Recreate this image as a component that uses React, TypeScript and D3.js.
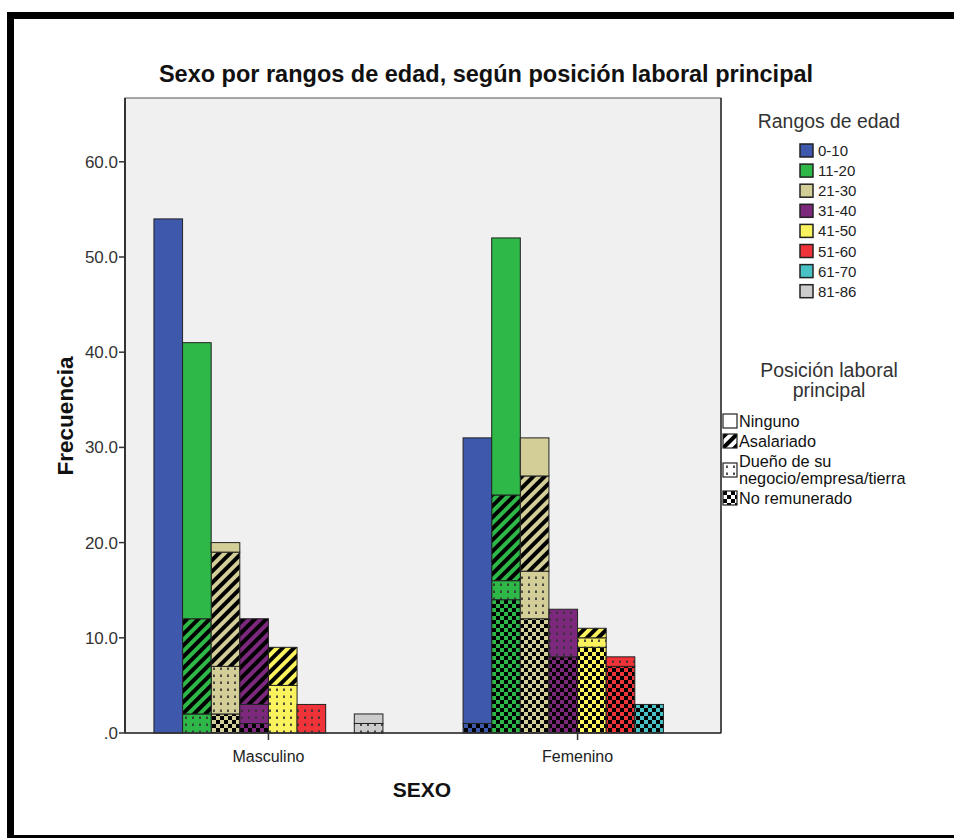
import React from "react";
import * as d3 from "d3";

const sexes = ["Masculino", "Femenino"];
const ages = ["0-10", "11-20", "21-30", "31-40", "41-50", "51-60", "61-70", "81-86"];
const ageColors = ["#3E58AC", "#2EB848", "#D3CE97", "#7C287D", "#FBF35E", "#EF3338", "#48C2C5", "#CCCCCC"];
const positions = ["No remunerado", "Dueño", "Asalariado", "Ninguno"]; // bottom -> top

// Counts per age range (order of `ages`)
const mascNinguno = [54, 29, 1, 0, 0, 0, 0, 1];
const mascAsalariado = [0, 10, 12, 9, 4, 0, 0, 0];
const mascDueno = [0, 2, 5, 2, 5, 3, 0, 1];
const mascNoRem = [0, 0, 2, 1, 0, 0, 0, 0];
const femNinguno = [30, 27, 4, 0, 0, 0, 0, 0];
const femAsalariado = [0, 9, 10, 0, 1, 0, 0, 0];
const femDueno = [0, 2, 5, 5, 1, 1, 0, 0];
const femNoRem = [1, 14, 12, 8, 9, 7, 3, 0];

const yTicks = [0, 10, 20, 30, 40, 50, 60];
const legendPositions = ["Ninguno", "Asalariado", "Dueño de su|negocio/empresa/tierra", "No remunerado"];

const FONT = "Arial, 'Liberation Sans', sans-serif";

const seriesBySex: Record<string, Record<string, number[]>> = {
  Masculino: { "No remunerado": mascNoRem, "Dueño": mascDueno, "Asalariado": mascAsalariado, "Ninguno": mascNinguno },
  Femenino: { "No remunerado": femNoRem, "Dueño": femDueno, "Asalariado": femAsalariado, "Ninguno": femNinguno },
};

const patternKind: Record<string, string> = {
  "Ninguno": "solid",
  "Asalariado": "stripe",
  "Dueño": "dot",
  "No remunerado": "check",
};

function fillFor(pos: string, ageIdx: number) {
  const k = patternKind[pos];
  if (k === "solid") return ageColors[ageIdx];
  return `url(#${k}-${ageIdx})`;
}

function Patterns({ color, id }: { color: string; id: string }) {
  return (
    <>
      <pattern id={`stripe-${id}`} width={8} height={8} patternUnits="userSpaceOnUse" patternTransform="rotate(45)">
        <rect width={8} height={8} fill={color} />
        <rect width={4} height={8} fill="#000" />
      </pattern>
      <pattern id={`dot-${id}`} width={7} height={7} patternUnits="userSpaceOnUse">
        <rect width={7} height={7} fill={color} />
        <rect x={3} y={2.5} width={2} height={2.5} fill="#333" opacity={0.85} />
      </pattern>
      <pattern id={`check-${id}`} width={8} height={8} patternUnits="userSpaceOnUse">
        <rect width={8} height={8} fill={color} />
        <rect width={4} height={4} fill="#000" />
        <rect x={4} y={4} width={4} height={4} fill="#000" />
      </pattern>
    </>
  );
}

export default function App() {
  const W = 954, H = 838;
  const plotL = 125, plotR = 721, plotT = 98, plotB = 733;

  const y = d3.scaleLinear().domain([0, 66.7]).range([plotB, plotT]);
  const x = d3.scalePoint<string>().domain(sexes).range([plotL, plotR]).padding(0.464);
  const inner = d3.scaleBand<string>().domain(ages).range([-114.5, 114.5]).padding(0);

  const segments: { x: number; y0: number; y1: number; w: number; fill: string; key: string }[] = [];
  sexes.forEach((s) => {
    const rows = ages.map((_, i) => {
      const r: any = {};
      positions.forEach((p) => (r[p] = seriesBySex[s][p][i]));
      return r;
    });
    const st = d3.stack<any>().keys(positions)(rows);
    st.forEach((layer) => {
      layer.forEach((d, i) => {
        if (d[1] - d[0] <= 0) return;
        segments.push({
          x: (x(s) as number) + (inner(ages[i]) as number),
          w: inner.bandwidth(),
          y0: y(d[0]),
          y1: y(d[1]),
          fill: fillFor(layer.key, i),
          key: `${s}-${layer.key}-${i}`,
        });
      });
    });
  });

  const fmt = (v: number) => (v === 0 ? ".0" : d3.format(".1f")(v));

  return (
    <svg width={W} height={H} style={{ position: "absolute", left: 0, top: 0, background: "#fff" }}>
      <defs>
        {ageColors.map((c, i) => (
          <Patterns key={i} color={c} id={String(i)} />
        ))}
        <Patterns color="#fff" id="legend" />
      </defs>
      <rect width={W} height={H} fill="#fff" />
      {/* frame */}
      <rect x={7} y={12} width={W} height={7} fill="#000" />
      <rect x={7} y={12} width={7} height={H} fill="#000" />
      <rect x={7} y={835} width={W} height={4} fill="#000" />

      {/* title */}
      <text x={486} y={82} textAnchor="middle" fontFamily={FONT} fontWeight="bold" fontSize={23.5} fill="#111">
        Sexo por rangos de edad, según posición laboral principal
      </text>

      {/* plot area */}
      <rect x={plotL} y={plotT} width={plotR - plotL} height={plotB - plotT} fill="#F0F0F0" stroke="#555" strokeWidth={1} />

      {segments.map((sg) => (
        <rect key={sg.key} x={sg.x} y={sg.y1} width={sg.w} height={sg.y0 - sg.y1} fill={sg.fill} stroke="#222" strokeWidth={1} />
      ))}

      {/* axes */}
      <line x1={plotL} x2={plotL} y1={plotT} y2={plotB} stroke="#333" strokeWidth={2} />
      <line x1={plotL} x2={plotR} y1={plotB} y2={plotB} stroke="#333" strokeWidth={1.5} />
      <line x1={plotR} x2={plotR} y1={plotT} y2={plotB} stroke="#333" strokeWidth={1.5} />
      {yTicks.map((t) => (
        <g key={t}>
          <line x1={plotL - 6} x2={plotL} y1={y(t)} y2={y(t)} stroke="#333" strokeWidth={1.5} />
          <text x={plotL - 7} y={y(t)} dy="0.35em" textAnchor="end" fontFamily={FONT} fontSize={17} fill="#333">
            {fmt(t)}
          </text>
        </g>
      ))}
      {sexes.map((s) => (
        <g key={s}>
          <line x1={x(s)} x2={x(s)} y1={plotB} y2={plotB + 7} stroke="#333" strokeWidth={1.5} />
          <text x={x(s)} y={762} textAnchor="middle" fontFamily={FONT} fontSize={16} fill="#222">
            {s}
          </text>
        </g>
      ))}
      <text x={422} y={797} textAnchor="middle" fontFamily={FONT} fontWeight="bold" fontSize={21} fill="#111">
        SEXO
      </text>
      <text transform="translate(73,416) rotate(-90)" textAnchor="middle" fontFamily={FONT} fontWeight="bold" fontSize={22.5} fill="#111">
        Frecuencia
      </text>

      {/* legend 1 */}
      <text x={829} y={128} textAnchor="middle" fontFamily={FONT} fontSize={19.4} fill="#333">
        Rangos de edad
      </text>
      {ages.map((a, i) => (
        <g key={a} transform={`translate(800, ${144 + i * 20.1})`}>
          <rect width={13} height={13} fill={ageColors[i]} stroke="#222" strokeWidth={1.5} />
          <text x={18} y={12} fontFamily={FONT} fontSize={15} fill="#222">
            {a}
          </text>
        </g>
      ))}

      {/* legend 2 */}
      <text x={829} y={377} textAnchor="middle" fontFamily={FONT} fontSize={19.5} fill="#333">
        Posición laboral
      </text>
      <text x={829} y={397} textAnchor="middle" fontFamily={FONT} fontSize={19.5} fill="#333">
        principal
      </text>
      {legendPositions.map((p, i) => {
        const kinds = ["solid", "stripe", "dot", "check"];
        const k = kinds[i];
        const fill = k === "solid" ? "#fff" : `url(#${k}-legend)`;
        const ys = [414, 434, 463, 491];
        const lines = p.split("|");
        return (
          <g key={p} transform={`translate(723, ${ys[i]})`}>
            <rect width={14} height={14} fill={fill} stroke="#222" strokeWidth={1.2} />
            {lines.length === 1 ? (
              <text x={16} y={12.5} fontFamily={FONT} fontSize={16.3} fill="#111">
                {p}
              </text>
            ) : (
              <>
                <text x={16} y={4} fontFamily={FONT} fontSize={16.3} fill="#111">
                  {lines[0]}
                </text>
                <text x={16} y={21} fontFamily={FONT} fontSize={16.3} fill="#111">
                  {lines[1]}
                </text>
              </>
            )}
          </g>
        );
      })}
    </svg>
  );
}
